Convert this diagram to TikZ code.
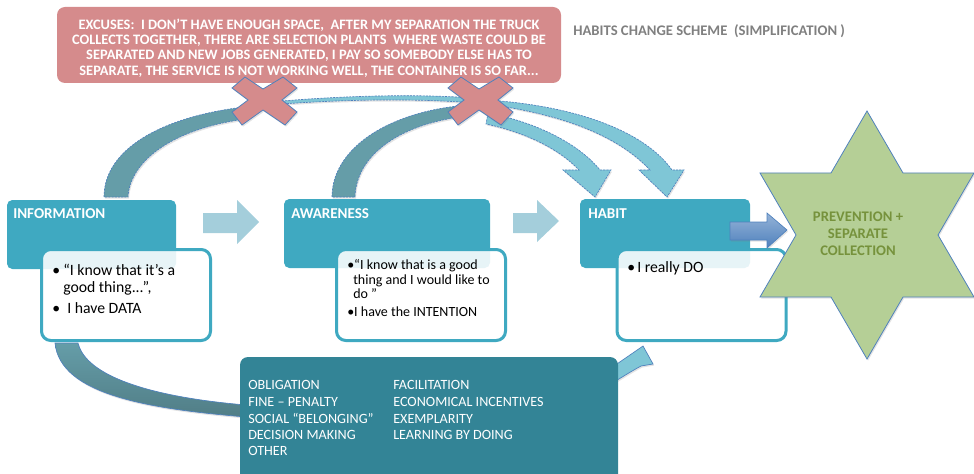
\documentclass[tikz,border=0pt]{standalone}
\usepackage{fontspec}
\setmainfont{Carlito}
\usetikzlibrary{shadows}

\definecolor{excusefill}{RGB}{213,139,140}
\definecolor{stagefill}{RGB}{63,169,193}
\definecolor{toolfill}{RGB}{51,132,150}
\definecolor{steparrow}{RGB}{164,206,219}
\definecolor{arcdark}{RGB}{101,157,168}
\definecolor{arclight}{RGB}{127,198,214}
\definecolor{edgeblue}{RGB}{79,129,189}
\definecolor{edgelight}{RGB}{149,179,215}
\definecolor{goalfill}{RGB}{181,207,150}
\definecolor{goaltext}{RGB}{118,146,60}
\definecolor{titlegray}{RGB}{128,128,128}

\begin{document}
\begin{tikzpicture}[x=0.75pt,y=-0.75pt,
  stagebox/.style={fill=stagefill, rounded corners=4pt, inner sep=0pt,
    minimum height=51.75pt},
  notebox/.style={draw=stagefill, line width=2.25pt, fill=white,
    fill opacity=0.88, rounded corners=7pt, inner sep=0pt,
    minimum width=126.75pt, minimum height=68.25pt},
  stagelabel/.style={anchor=base west, inner sep=0pt, text=white,
    font=\fontsize{11.3}{13}\selectfont\bfseries},
  notetext/.style={anchor=base west, inner sep=0pt, text=black,
    font=\fontsize{11.8}{14}\selectfont},
  notesmall/.style={anchor=base west, inner sep=0pt, text=black,
    font=\fontsize{10.5}{12}\selectfont},
  tooltext/.style={anchor=base west, inner sep=0pt, text=white,
    font=\fontsize{10.6}{12}\selectfont},
  stepfill/.style={fill=steparrow},
  ribbon/.style={draw=edgeblue, line width=0.5pt, dash pattern=on 1.6pt off 0.8pt},
  softshadow/.style={drop shadow={opacity=0.22, shadow xshift=0.8pt, shadow yshift=-1.2pt}},
  crossmark/.style={fill=excusefill, draw=edgeblue, line width=0.6pt, softshadow},
]
\useasboundingbox (0,0) rectangle (974,474);

% ---- excuses banner and title ----
\node[fill=excusefill, rounded corners=6pt, inner sep=0pt,
      minimum width=378pt, minimum height=57pt] (excuses) at (309,45) {};
\node[align=center, text=white, inner sep=0pt,
      font=\fontsize{10.8}{11.4}\selectfont\bfseries] (excusetext) at (309,48)
  {EXCUSES:\ \ I DON’T HAVE ENOUGH SPACE,\ \ AFTER MY SEPARATION THE TRUCK\\
   COLLECTS TOGETHER, THERE ARE SELECTION PLANTS\ \ WHERE WASTE COULD BE\\
   SEPARATED AND NEW JOBS GENERATED, I PAY SO SOMEBODY ELSE HAS TO\\
   SEPARATE, THE SERVICE IS NOT WORKING WELL, THE CONTAINER IS SO FAR...};
\node[anchor=base west, inner sep=0pt, text=titlegray,
      font=\fontsize{11}{12}\selectfont\bfseries] (title) at (573,36)
  {HABITS CHANGE SCHEME\ \ (SIMPLIFICATION )};

% ---- arcs that try to skip straight to the habit ----
% information -> (blocked) -> habit
\fill[arcdark, softshadow] (104,197) .. controls (104,150) and (160,117) .. (244,107)
  -- (246,119) .. controls (175,128) and (130,160) .. (128,197) -- cycle;
\draw[ribbon] (104,197) .. controls (104,150) and (160,117) .. (244,107);
\draw[ribbon] (246,119) .. controls (175,128) and (130,160) .. (128,197) -- (104,197);
\path[fill=arclight, ribbon, softshadow] (282,101) .. controls (380,93) and (460,95) .. (500,101)
  .. controls (580,108) and (645,132) .. (672,170) -- (684,170) -- (667,197)
  -- (639,170) -- (650,170) .. controls (620,138) and (570,117) .. (500,106)
  .. controls (460,100) and (380,97) .. (282,104) -- cycle;
% awareness -> (blocked) -> habit
\fill[arcdark, softshadow] (332,197) .. controls (332,150) and (385,114) .. (458,106)
  -- (460,117) .. controls (400,125) and (356,155) .. (355,197) -- cycle;
\draw[ribbon] (332,197) .. controls (332,150) and (385,114) .. (458,106);
\draw[ribbon] (460,117) .. controls (400,125) and (356,155) .. (355,197) -- (332,197);
\path[fill=arclight, ribbon, softshadow] (488,113) .. controls (535,122) and (578,143) .. (600,170)
  -- (611,170) -- (595,197) -- (563,170) -- (579,170)
  .. controls (560,150) and (528,133) .. (486,124) -- cycle;

% ---- crosses blocking the shortcuts ----
\path[crossmark] (264,100) ++(-32,-12) -- ++(13,-11) -- ++(18,12) -- ++(20,-12)
  -- ++(14,11) -- ++(-15,12) -- ++(15,12) -- ++(-12,13) -- ++(-22,-15)
  -- ++(-21,15) -- ++(-10,-13) -- ++(16,-12) -- cycle;
\path[crossmark] (480,100) ++(-32,-12) -- ++(13,-11) -- ++(18,12) -- ++(20,-12)
  -- ++(14,11) -- ++(-15,12) -- ++(15,12) -- ++(-12,13) -- ++(-22,-15)
  -- ++(-21,15) -- ++(-10,-13) -- ++(16,-12) -- cycle;

% ---- stages ----
\node[stagebox, minimum width=126.75pt] (info) at (91.5,234.5) {};
\node[stagebox, minimum width=154.5pt] (aware) at (387,233.5) {};
\node[stagebox, minimum width=127.5pt] (habit) at (665,233.5) {};
\node[stagelabel] (infolabel) at (13,219) {INFORMATION};
\node[stagelabel] (awarelabel) at (291,219) {AWARENESS};
\node[stagelabel] (habitlabel) at (588,219) {HABIT};

% small arrow from the tools box up to the habit
\path[fill=arclight, draw=edgeblue, line width=0.5pt, softshadow]
  (614,366) -- (643,346) -- (653,364) -- (641,366)
  .. controls (632,371) .. (614,382) -- cycle;

\node[notebox] (infonote) at (126,295) {};
\node[notebox] (awarenote) at (421,295) {};
\node[notebox] (habitnote) at (701.5,295) {};

\node[notetext] (i1b) at (52,275) {•};
\node[notetext] (i1) at (63,275) {“I know that it’s a};
\node[notetext] (i2) at (63,292) {good thing...”,};
\node[notetext] (i3b) at (52,313) {•};
\node[notetext] (i3) at (67,313) {I have DATA};

\node[notesmall] (a1) at (347,269) {•“I know that is a good};
\node[notesmall] (a2) at (353,284) {thing and I would like to};
\node[notesmall] (a3) at (353,298) {do ”};
\node[notesmall] (a4) at (347,316) {•I have the INTENTION};

\node[notetext] (h1b) at (627,272) {•};
\node[notetext] (h1) at (637,272) {I really DO};

% ---- straight steps between stages ----
\fill[stepfill] (203,213) -- (237,213) -- (237,200) -- (259,222) -- (237,244)
  -- (237,233) -- (203,233) -- cycle;
\fill[stepfill] (513,213) -- (537,213) -- (537,200) -- (559,221) -- (537,242)
  -- (537,233) -- (513,233) -- cycle;

% ---- tools that turn information into habit ----
\path[top color=arcdark, bottom color=arcdark!80!black, draw=edgeblue, line width=0.5pt, softshadow]
  (55,343) .. controls (60,395) and (150,409) .. (246,417) -- (246,405)
  .. controls (150,397) and (86,376) .. (78,343) -- cycle;
\node[fill=toolfill, rounded corners=6pt, inner sep=0pt,
      minimum width=283.5pt, minimum height=99.75pt] (tools) at (429,423.5) {};
\node[tooltext] (t1) at (248,389) {OBLIGATION};
\node[tooltext] (t2) at (248,406) {FINE – PENALTY};
\node[tooltext] (t3) at (248,423) {SOCIAL “BELONGING”};
\node[tooltext] (t4) at (248,439) {DECISION MAKING};
\node[tooltext] (t5) at (248,455) {OTHER};
\node[tooltext] (u1) at (393,389) {FACILITATION};
\node[tooltext] (u2) at (393,406) {ECONOMICAL INCENTIVES};
\node[tooltext] (u3) at (393,423) {EXEMPLARITY};
\node[tooltext] (u4) at (393,439) {LEARNING BY DOING};

% ---- goal star ----
\path[fill=goalfill, draw=edgeblue, line width=0.6pt, softshadow]
  (867,111) -- (903,173) -- (974,173) -- (938,235) -- (974,297) -- (903,297)
  -- (867,359) -- (831,297) -- (760,297) -- (796,235) -- (760,173) -- (831,173) -- cycle;
\node[align=center, inner sep=0pt, text=goaltext,
      font=\fontsize{11}{12.75}\selectfont\bfseries] (goal) at (858,234)
  {PREVENTION +\\ SEPARATE\\ COLLECTION};

% habit leads to the goal
\path[top color=edgelight, bottom color=edgeblue, draw=edgeblue, line width=0.5pt, softshadow]
  (730,222) -- (767,222) -- (767,213) -- (787,230) -- (767,248) -- (767,240)
  -- (730,240) -- cycle;
\end{tikzpicture}
\end{document}
